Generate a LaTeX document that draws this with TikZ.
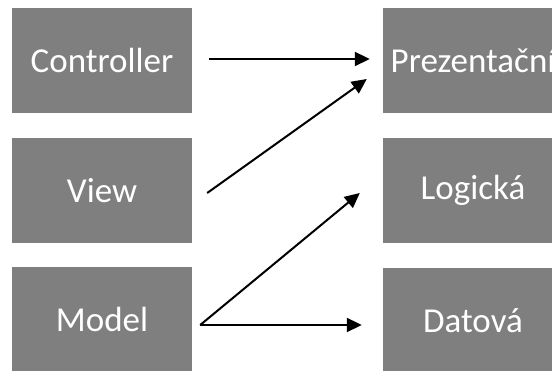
\documentclass[tikz,border=0pt]{standalone}
\usepackage{fontspec}
\setmainfont{Carlito}
\usepackage{tikz}
\usetikzlibrary{arrows.meta}
\definecolor{boxgray}{HTML}{7F7F7F}
\tikzset{
  layer/.style={fill=boxgray, text=white, minimum width=180pt, minimum height=105pt,
    inner sep=0pt, font=\fontsize{35}{40}\selectfont},
  link/.style={line width=2pt, -{Triangle[length=15pt,width=14pt]}}
}

\begin{document}
\begin{tikzpicture}[x=1pt,y=1pt]
\useasboundingbox (0,0) rectangle (552,371);
\clip (0,0) rectangle (552,371);
\node[layer] (ctrl) at (102,310.5) {Controller};
\node[layer] (view) at (102,180.5) {View};
\node[layer] (model) at (102,51.5) {Model};
\node[layer] (prez) at (473,310.5) {Prezentační};
\node[layer] (logic) at (473,180.5) {Logická};
\node[layer] (data) at (473,50.5) {Datová};
\coordinate (fork) at ([shift={(8pt,-5.5pt)}]model.east);
\draw[link] ([shift={(17pt,1.5pt)}]ctrl.east) -- ([shift={(-13pt,1.5pt)}]prez.west);
\draw[link] ([shift={(15pt,-2.5pt)}]view.east) -- ([shift={(-16pt,-18.5pt)}]prez.west);
\draw[link] (fork) -- ([shift={(-23pt,-2.5pt)}]logic.west);
\draw[link] (fork) -- ([shift={(-21pt,-4.5pt)}]data.west);
\end{tikzpicture}
\end{document}
